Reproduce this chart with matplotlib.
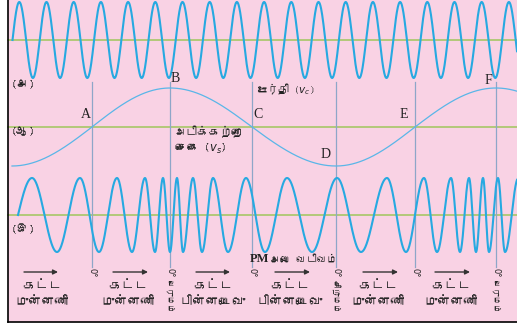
#!/usr/bin/env python3
"""
plot.py — Phase modulation diagram: carrier, modulating signal and PM wave.
Drawn in pixel-like coordinates (517 x 329) on a single full-figure axes.
"""

import matplotlib
matplotlib.use("Agg")
import matplotlib.pyplot as plt
from matplotlib import font_manager
from matplotlib.ft2font import FT2Font
import numpy as np

# ---------------------------------------------------------------------------
# Data (x in px, y in px from top)
# ---------------------------------------------------------------------------

# carrier (a)
CARRIER_START = 12.5
CARRIER_PERIOD = 27.2
CARRIER_AXIS_Y = 40
CARRIER_AMP = 38

# modulating signal (b): key points A..F and the phase (in cycles) there
MOD_X = [12, 92, 170, 252, 336, 415, 496, 517]
MOD_PHASE = [-0.25, 0.0, 0.25, 0.5, 0.75, 1.0, 1.25, 1.315]
MOD_AXIS_Y = 127
MOD_AMP = 39

# PM wave (c): x of zero crossing / peaks / troughs, phase in cycles
PM_X = [18, 32, 57, 80, 99, 117, 132, 145, 155, 163, 170, 177, 183, 193,
        202, 213, 228, 246, 265, 287, 312, 337, 361, 387, 406, 424, 437,
        451, 460, 469, 476, 483, 489, 498, 505, 517]
PM_PHASE = [0.0] + [0.25 + 0.5 * i for i in range(34)] + [17.2]
PM_AXIS_Y = 215
PM_AMP = 37

LINE_X = [92, 170, 252, 336, 415, 496]
POINT_NAMES = ["A", "B", "C", "D", "E", "F"]
POINT_POS = [(86, 114), (175, 78), (258, 115), (326, 155), (404, 115), (488, 81)]

ARROW_SPANS = [(24, 58), (113, 148), (196, 230), (275, 310), (363, 398), (435, 470)]
STATE_LABELS = ["முன்னணி", "முன்னணி", "பின்னடைவு", "பின்னடைவு", "முன்னணி", "முன்னணி"]
LABEL_X = [42, 128, 213, 290, 378, 451]
PHASE_WORD = "கட்ட"
LINE_NOTES = ["", "பெருமம்", "", "சிறுமம்", "", "பெருமம்"]

BG = "#f9d2e4"
WAVE = "#27a9e1"
MODC = "#5ab6e8"
GREEN = "#9fc65c"
VLINE = "#8ea6c8"
INK = "#222222"


def tamil_font():
    """Pick an installed family that has Tamil glyphs, if any."""
    for f in font_manager.fontManager.ttflist:
        try:
            if 0x0B95 in FT2Font(f.fname).get_charmap():
                return f.name
        except Exception:
            continue
    return "DejaVu Sans"


TA = [tamil_font(), "DejaVu Sans"]
SERIF = ["Liberation Serif", "DejaVu Serif"]

fig = plt.figure(figsize=(5.17, 3.29), dpi=100)
fig.patch.set_facecolor("white")
ax = fig.add_axes([0, 0, 1, 1])
ax.set_xlim(0, 517)
ax.set_ylim(329, 0)
ax.axis("off")

# pink panel with black left / bottom border
ax.add_patch(plt.Rectangle((8, -2), 515, 324, facecolor=BG, edgecolor="none", zorder=0))
ax.plot([8, 8], [0, 322], color="black", lw=1.2, zorder=5)
ax.plot([8, 517], [322, 322], color="black", lw=1.2, zorder=5)

# axes lines
for yy in (CARRIER_AXIS_Y, MOD_AXIS_Y, PM_AXIS_Y):
    ax.plot([8, 517], [yy, yy], color=GREEN, lw=1.1, zorder=1)

# vertical reference lines
for xv in LINE_X:
    ax.plot([xv, xv], [82, 267], color=VLINE, lw=0.9, zorder=1)

# (a) carrier
xc = np.linspace(CARRIER_START, 517, 2000)
ax.plot(xc, CARRIER_AXIS_Y - CARRIER_AMP * np.sin(2 * np.pi * (xc - CARRIER_START) / CARRIER_PERIOD),
        color=WAVE, lw=1.5, zorder=3)

# (b) modulating signal
xm = np.linspace(MOD_X[0], MOD_X[-1], 1000)
pm = np.interp(xm, MOD_X, MOD_PHASE)
ax.plot(xm, MOD_AXIS_Y - MOD_AMP * np.sin(2 * np.pi * pm), color=MODC, lw=0.9, zorder=3)

# (c) PM wave
xp = np.linspace(PM_X[0], PM_X[-1], 3000)
pp = np.interp(xp, PM_X, PM_PHASE)
ax.plot(xp, PM_AXIS_Y - PM_AMP * np.sin(2 * np.pi * pp), color=WAVE, lw=1.5, zorder=3)

# panel tags
for tag, yy in (("(அ)", 84), ("(ஆ)", 131), ("(இ)", 229)):
    ax.text(11, yy, tag, family=TA, fontsize=9, fontweight="bold", va="center",
            ha="left", color=INK, zorder=4)

for name, (px, py) in zip(POINT_NAMES, POINT_POS):
    ax.text(px, py, name, family=SERIF, fontsize=10, ha="center", va="center", color=INK, zorder=4)

ax.text(257, 89, "ஊர்தி ($v_c$)", family=TA, fontsize=7.5, fontweight="bold", va="center",
        ha="left", color=INK, zorder=4)
ax.text(175, 132, "அடிக்கற்றை", family=TA, fontsize=8.3, va="center", ha="left", color=INK, zorder=4)
ax.text(175, 149, "சைகை ($v_s$)", family=TA, fontsize=8.3, va="center", ha="left", color=INK, zorder=4)
ax.text(250, 259, "PM", family=SERIF, fontsize=9, fontweight="bold", va="center", ha="left",
        color=INK, zorder=4)
ax.text(270, 259, "அலை வடிவம்", family=TA, fontsize=7.5, va="center", ha="left", color=INK, zorder=4)

# arrows and phase labels
for (x0, x1), lab, lx in zip(ARROW_SPANS, STATE_LABELS, LABEL_X):
    ax.annotate("", xy=(x1, 272), xytext=(x0, 272),
                arrowprops=dict(arrowstyle="-|>", color="#333333", lw=1.0,
                                mutation_scale=7, shrinkA=0, shrinkB=0), zorder=4)
    ax.text(lx, 286, PHASE_WORD, family=TA, fontsize=9.5, ha="center", va="center",
            color=INK, zorder=4)
    ax.text(lx, 302, lab, family=TA, fontsize=9.5, ha="center", va="center", color=INK, zorder=4)

# marks under the vertical lines
for xv, note in zip(LINE_X, LINE_NOTES):
    ax.text(xv, 273, "0°", family=["DejaVu Sans"], fontsize=6, rotation=-90,
            ha="center", va="center", color=INK, zorder=4)
    if note:
        ax.text(xv, 297, note, family=TA, fontsize=6, rotation=-90,
                ha="center", va="center", color=INK, zorder=4)

fig.savefig("out.png", dpi=100)
